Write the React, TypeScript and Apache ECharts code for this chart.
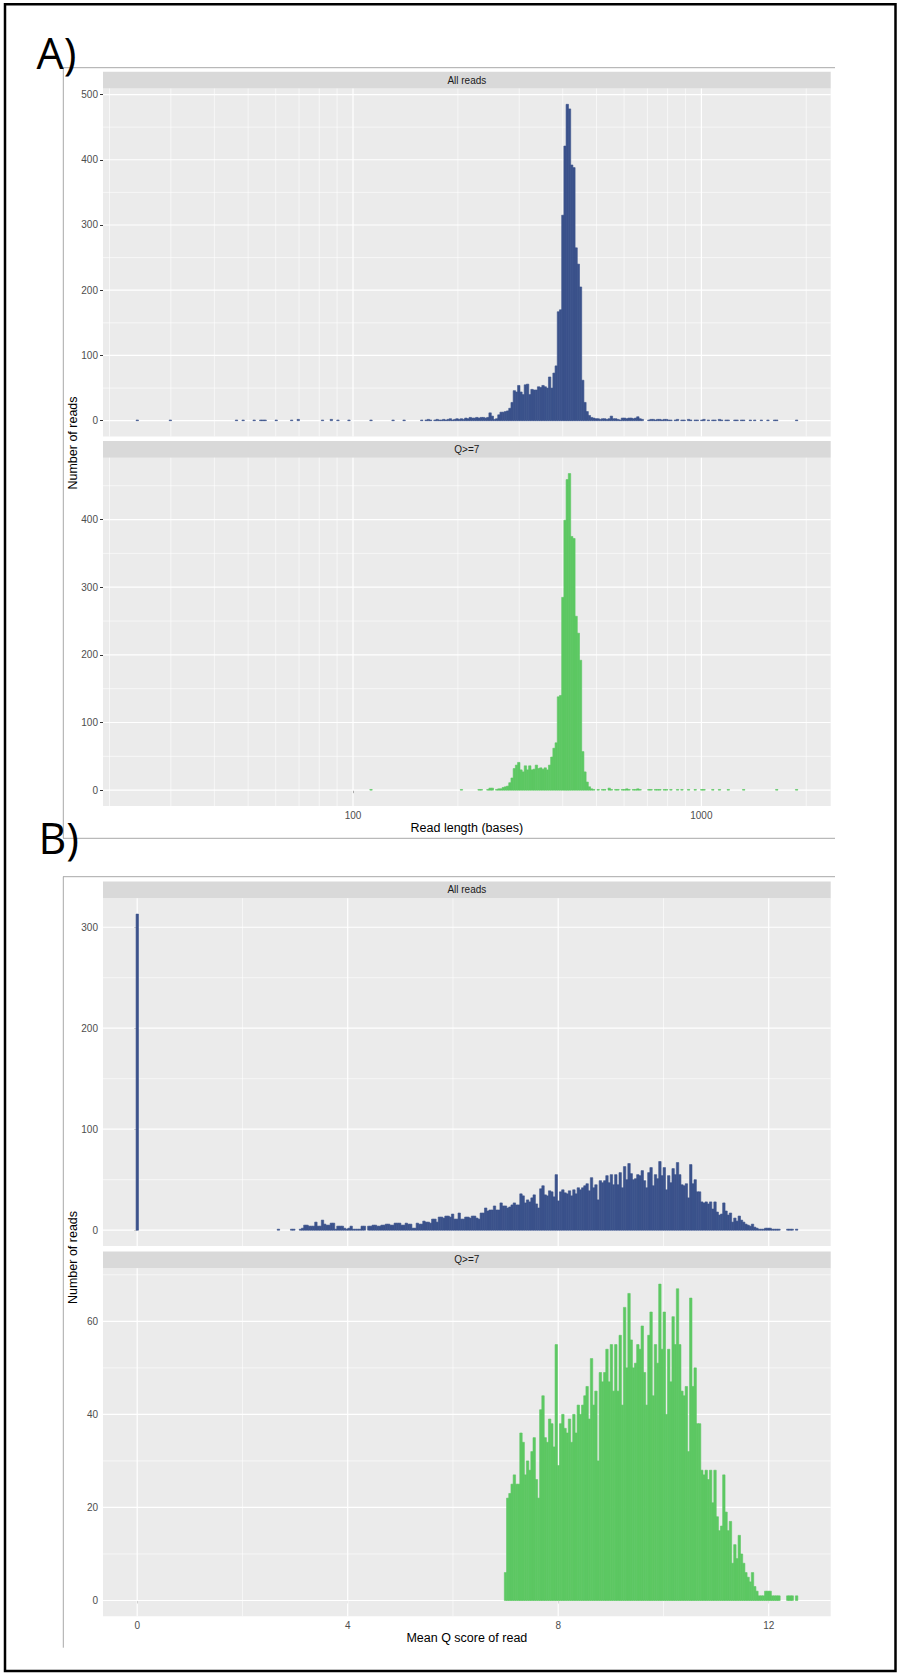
import React, { useEffect, useRef } from "react";
import * as echarts from "echarts";

// ---------------- DATA ----------------
// Read length histograms: 300 bins, uniform in log10(read length)
const lengthBinStartLog10 = 1.3773;
const lengthBinWidthLog10 = 0.00633;

const allReadsLengthCounts = [
  1,0,0,0,0,0,0,0,0,0,0,0,0,0,0,1,0,0,0,0,
  0,0,0,0,0,0,0,0,0,0,0,0,0,0,0,0,0,0,0,0,
  0,0,0,0,0,1,0,0,1,0,0,0,0,1,0,0,1,1,1,0,
  0,0,0,1,0,0,0,0,0,0,1,0,0,2,0,0,0,0,0,0,
  0,0,0,0,1,0,0,0,2,0,0,1,0,0,0,0,1,0,0,0,
  0,0,0,0,0,0,1,0,0,0,0,0,0,0,0,0,1,0,0,0,
  0,1,0,0,0,0,0,0,0,1,0,1,2,1,0,1,2,1,1,2,
  1,2,3,1,2,3,2,3,2,4,3,5,4,4,5,4,5,5,4,5,
  12,7,2,3,9,13,13,14,15,19,28,46,44,54,44,40,55,56,40,48,
  47,47,52,51,54,52,50,67,50,73,84,167,170,315,421,485,478,392,388,265,
  240,205,62,28,14,8,5,4,3,3,2,3,3,2,3,7,3,3,2,1,
  4,4,3,4,4,3,4,6,3,2,0,0,1,2,2,1,2,2,1,2,
  2,1,1,0,1,2,0,1,1,0,2,1,0,1,1,0,1,2,0,1,
  0,1,1,0,2,1,0,1,1,0,0,1,1,0,1,1,0,0,1,0,
  1,0,0,1,0,0,1,0,0,1,1,0,0,0,0,0,0,0,0,1,
];

const q7LengthCounts = [
  0,0,0,0,0,0,0,0,0,0,0,0,0,0,0,0,0,0,0,0,
  0,0,0,0,0,0,0,0,0,0,0,0,0,0,0,0,0,0,0,0,
  0,0,0,0,0,0,0,0,0,0,0,0,0,0,0,0,0,0,0,0,
  0,0,0,0,0,0,0,0,0,0,0,0,0,0,0,0,0,0,0,0,
  0,0,0,0,0,0,0,0,0,0,0,0,0,0,0,0,0,0,0,0,
  0,0,0,0,0,0,1,0,0,0,0,0,0,0,0,0,0,0,0,0,
  0,0,0,0,0,0,0,0,0,0,0,0,0,0,0,0,0,0,0,0,
  0,0,0,0,0,0,0,1,0,0,0,0,0,0,0,1,1,0,0,1,
  3,3,0,1,2,2,4,5,6,11,18,32,37,41,30,27,36,30,36,30,
  31,37,32,33,31,33,30,37,49,62,70,138,140,285,399,459,468,375,372,257,
  232,192,57,27,12,5,2,1,0,1,0,1,1,0,3,1,0,1,1,0,
  1,1,2,1,0,1,1,2,1,0,0,0,1,1,0,1,1,1,0,1,
  1,0,1,0,0,1,0,1,0,0,1,0,0,1,0,0,1,1,0,0,
  0,1,0,0,1,0,0,0,1,0,0,0,0,0,0,1,0,0,0,0,
  0,0,0,0,0,0,0,0,0,0,1,0,0,0,0,0,0,0,0,1,
];

// Mean Q score histograms: 300 bins centred on k * qBinWidth
const qBinWidth = 0.0419;

const allReadsQCounts = [
  313,0,0,0,0,0,0,0,0,0,0,0,0,0,0,0,0,0,0,0,
  0,0,0,0,0,0,0,0,0,0,0,0,0,0,0,0,0,0,0,0,
  0,0,0,0,0,0,0,0,0,0,0,0,0,0,0,0,0,0,0,0,
  0,0,0,0,1,0,0,0,0,0,1,1,0,0,1,2,5,5,4,4,
  4,8,4,4,10,6,5,5,7,7,1,4,4,4,2,1,2,4,1,1,
  1,1,4,4,0,4,4,5,5,4,4,5,5,6,6,5,5,7,7,7,
  5,5,7,6,6,2,2,7,6,6,9,8,8,7,11,11,8,13,13,12,
  14,14,13,16,11,11,17,11,11,13,13,12,14,14,12,11,17,17,22,19,
  20,20,24,20,20,27,24,24,22,23,25,27,25,25,36,34,27,30,28,32,
  35,26,22,41,44,35,34,39,38,33,55,29,38,40,37,36,39,34,40,36,
  42,40,42,44,46,39,52,42,45,30,49,47,49,54,47,55,45,55,45,57,
  42,63,50,66,56,50,51,55,54,59,49,42,57,62,44,55,51,68,54,62,
  40,54,47,61,55,67,55,45,44,46,32,65,46,50,38,38,28,27,28,26,
  28,21,28,18,15,16,27,19,15,17,8,12,9,14,10,8,6,5,4,6,
  3,2,1,1,1,2,2,2,1,1,1,1,0,0,0,1,1,1,0,1,
];

const q7QCounts = [
  0,0,0,0,0,0,0,0,0,0,0,0,0,0,0,0,0,0,0,0,
  0,0,0,0,0,0,0,0,0,0,0,0,0,0,0,0,0,0,0,0,
  0,0,0,0,0,0,0,0,0,0,0,0,0,0,0,0,0,0,0,0,
  0,0,0,0,0,0,0,0,0,0,0,0,0,0,0,0,0,0,0,0,
  0,0,0,0,0,0,0,0,0,0,0,0,0,0,0,0,0,0,0,0,
  0,0,0,0,0,0,0,0,0,0,0,0,0,0,0,0,0,0,0,0,
  0,0,0,0,0,0,0,0,0,0,0,0,0,0,0,0,0,0,0,0,
  0,0,0,0,0,0,0,0,0,0,0,0,0,0,0,0,0,0,0,0,
  0,0,0,0,0,0,0,6,22,23,25,27,25,25,36,34,27,30,28,32,
  35,26,22,41,44,35,34,39,38,33,55,29,38,40,37,36,39,34,40,36,
  42,40,42,44,46,39,52,42,45,30,49,47,49,54,47,55,45,55,45,57,
  42,63,50,66,56,50,51,55,54,59,49,42,57,62,44,55,51,68,54,62,
  40,54,47,61,55,67,55,45,44,46,32,65,46,50,38,38,28,27,28,26,
  28,21,28,18,15,16,27,19,15,17,8,12,9,14,10,8,6,5,4,6,
  3,2,1,1,1,2,2,2,1,1,1,1,0,0,0,1,1,1,0,1,
];

// Tick labels and grid breaks
const lengthTickLabels = [100, 1000];
const lengthMinorBreaks = [20, 30, 40, 50, 60, 70, 80, 90, 200, 300, 400, 500, 600, 700, 800, 900, 2000];
const qTickLabels = [0, 4, 8, 12];
const qMinorBreaks = [2, 6, 10];
const allReadsLengthYTicks = [0, 100, 200, 300, 400, 500];
const allReadsLengthYMinor = [50, 150, 250, 350, 450];
const q7LengthYTicks = [0, 100, 200, 300, 400];
const q7LengthYMinor = [50, 150, 250, 350, 450];
const allReadsQYTicks = [0, 100, 200, 300];
const allReadsQYMinor = [50, 150, 250];
const q7QYTicks = [0, 20, 40, 60];
const q7QYMinor = [10, 30, 50, 70];
const facetLabels = ["All reads", "Q>=7"];
const panelLetters = ["A)", "B)"];
const xTitles = ["Read length (bases)", "Mean Q score of read"];
const yTitle = "Number of reads";

// ---------------- STYLE / LAYOUT ----------------
const BLUE = "#3B528B";
const GREEN = "#5DC863";
const PANEL_BG = "#EBEBEB";
const STRIP_BG = "#D9D9D9";
const FONT = '"Liberation Sans", Arial, Helvetica, sans-serif';
const PLOT_LEFT = 103;
const PLOT_WIDTH = 727.7;
const STRIP_H = 16.8;
const FRAME = "#A8A8A8";

export default function App() {
  const ref = useRef<HTMLDivElement>(null);

  useEffect(() => {
    if (!ref.current) return;
    const chart = echarts.init(ref.current, null, { renderer: "svg" });

    const nLen = allReadsLengthCounts.length;
    const lenLo = lengthBinStartLog10;
    const lenHi = lengthBinStartLog10 + nLen * lengthBinWidthLog10;
    const lenRange = [lenLo - 0.05 * (lenHi - lenLo), lenHi + 0.05 * (lenHi - lenLo)];
    const nQ = allReadsQCounts.length;
    const qLo = -0.5 * qBinWidth;
    const qHi = (nQ - 0.5) * qBinWidth;
    const qRange = [qLo - 0.05 * (qHi - qLo), qHi + 0.05 * (qHi - qLo)];

    const lengthBins = (counts: number[]) =>
      counts
        .map((c, i) => [lenLo + i * lengthBinWidthLog10, lenLo + (i + 1) * lengthBinWidthLog10, c])
        .filter((d) => d[2] > 0);
    const qBins = (counts: number[]) =>
      counts
        .map((c, k) => [(k - 0.5) * qBinWidth, (k + 0.5) * qBinWidth, c])
        .filter((d) => d[2] > 0);

    const lenFmt = (v: number) => String(Math.round(Math.pow(10, v)));
    const qFmt = (v: number) => String(Math.round(v));

    const panels = [
      {
        top: 88.5, height: 348, strip: facetLabels[0], counts: allReadsLengthCounts,
        bins: lengthBins(allReadsLengthCounts), color: BLUE, xRange: lenRange,
        xMajor: lengthTickLabels.map((v) => Math.log10(v)), xMinor: lengthMinorBreaks.map((v) => Math.log10(v)),
        yTicks: allReadsLengthYTicks, yMinor: allReadsLengthYMinor, showX: false, fmt: lenFmt,
      },
      {
        top: 457.7, height: 348.3, strip: facetLabels[1], counts: q7LengthCounts,
        bins: lengthBins(q7LengthCounts), color: GREEN, xRange: lenRange,
        xMajor: lengthTickLabels.map((v) => Math.log10(v)), xMinor: lengthMinorBreaks.map((v) => Math.log10(v)),
        yTicks: q7LengthYTicks, yMinor: q7LengthYMinor, showX: true, fmt: lenFmt,
      },
      {
        top: 898.3, height: 347.7, strip: facetLabels[0], counts: allReadsQCounts,
        bins: qBins(allReadsQCounts), color: BLUE, xRange: qRange,
        xMajor: qTickLabels, xMinor: qMinorBreaks,
        yTicks: allReadsQYTicks, yMinor: allReadsQYMinor, showX: false, fmt: qFmt,
      },
      {
        top: 1268.3, height: 348, strip: facetLabels[1], counts: q7QCounts,
        bins: qBins(q7QCounts), color: GREEN, xRange: qRange,
        xMajor: qTickLabels, xMinor: qMinorBreaks,
        yTicks: q7QYTicks, yMinor: q7QYMinor, showX: true, fmt: qFmt,
      },
    ];

    const grids: any[] = [];
    const xAxes: any[] = [];
    const yAxes: any[] = [];
    const series: any[] = [];
    const graphics: any[] = [];

    panels.forEach((p, gi) => {
      const maxC = Math.max(...p.counts);
      const yMin = -0.05 * maxC;
      const yMax = 1.05 * maxC;
      grids.push({
        left: PLOT_LEFT, top: p.top, width: PLOT_WIDTH, height: p.height,
        show: true, backgroundColor: PANEL_BG, borderWidth: 0,
      });
      xAxes.push({
        gridIndex: gi, type: "value", min: p.xRange[0], max: p.xRange[1],
        axisLine: { show: false }, splitLine: { show: false }, minorSplitLine: { show: false },
        axisTick: { show: p.showX, customValues: p.xMajor, length: 3, lineStyle: { color: "#333333", width: 1 } },
        axisLabel: {
          show: p.showX, customValues: p.xMajor, margin: 4, color: "#4D4D4D",
          fontSize: 10, fontFamily: FONT, formatter: p.fmt,
        },
      });
      yAxes.push({
        gridIndex: gi, type: "value", min: yMin, max: yMax,
        axisLine: { show: false }, splitLine: { show: false },
        axisTick: { show: true, customValues: p.yTicks, length: 3, lineStyle: { color: "#333333", width: 1 } },
        axisLabel: { customValues: p.yTicks, margin: 5, color: "#4D4D4D", fontSize: 10, fontFamily: FONT },
      });

      const gridItems: number[][] = [];
      p.xMajor.forEach((v) => gridItems.push([0, v]));
      p.xMinor.forEach((v) => gridItems.push([1, v]));
      p.yTicks.forEach((v) => gridItems.push([2, v]));
      p.yMinor.forEach((v) => gridItems.push([3, v]));
      const xr = p.xRange;

      series.push({
        type: "custom", xAxisIndex: gi, yAxisIndex: gi, z: 1, silent: true,
        data: gridItems,
        renderItem: (params: any, api: any) => {
          const kind = api.value(0);
          const v = api.value(1);
          const cs = params.coordSys;
          const lw = kind === 0 || kind === 2 ? 1.2 : 0.6;
          if (kind < 2) {
            const x = api.coord([v, 0])[0];
            return {
              type: "line",
              shape: { x1: x, y1: cs.y, x2: x, y2: cs.y + cs.height },
              style: { stroke: "#FFFFFF", lineWidth: lw },
            };
          }
          const y = api.coord([xr[0], v])[1];
          return {
            type: "line",
            shape: { x1: cs.x, y1: y, x2: cs.x + cs.width, y2: y },
            style: { stroke: "#FFFFFF", lineWidth: lw },
          };
        },
      });

      series.push({
        type: "custom", xAxisIndex: gi, yAxisIndex: gi, z: 3, silent: true,
        data: p.bins,
        encode: { x: [0, 1], y: 2 },
        renderItem: (params: any, api: any) => {
          const p0 = api.coord([api.value(0), 0]);
          const p1 = api.coord([api.value(1), api.value(2)]);
          return {
            type: "rect",
            shape: { x: p0[0], y: p1[1], width: p1[0] - p0[0] + 0.2, height: p0[1] - p1[1] },
            style: { fill: p.color, stroke: p.color, lineWidth: 0.6 },
          };
        },
      });

      // strip
      graphics.push({
        type: "rect", silent: true,
        shape: { x: PLOT_LEFT, y: p.top - STRIP_H, width: PLOT_WIDTH, height: STRIP_H },
        style: { fill: STRIP_BG },
      });
      graphics.push({
        type: "text", silent: true,
        x: PLOT_LEFT + PLOT_WIDTH / 2, y: p.top - STRIP_H / 2,
        style: {
          text: p.strip, fill: "#1A1A1A", font: `10px ${FONT}`,
          textAlign: "center", textVerticalAlign: "middle", align: "center", verticalAlign: "middle",
        },
      });
    });

    const line = (x1: number, y1: number, x2: number, y2: number, stroke: string, w: number) => ({
      type: "line", silent: true,
      shape: { x1, y1, x2, y2 },
      style: { stroke, lineWidth: w },
    });
    const text = (t: string, x: number, y: number, size: number, family: string, color: string, align = "center", rot = 0) => ({
      type: "text", silent: true, x, y, rotation: rot,
      style: {
        text: t, fill: color, font: `${size}px ${family}`,
        textAlign: align, textVerticalAlign: "middle", align, verticalAlign: "middle",
      },
    });

    // image frames
    graphics.push(line(63, 67.7, 835, 67.7, FRAME, 1));
    graphics.push(line(63.3, 67.7, 63.3, 838.3, FRAME, 1));
    graphics.push(line(63, 838.3, 835, 838.3, FRAME, 1));
    graphics.push(line(63, 876.7, 835, 876.7, FRAME, 1));
    graphics.push(line(63.3, 876.7, 63.3, 1647.7, FRAME, 1));

    // outer black border
    graphics.push({
      type: "rect", silent: true,
      shape: { x: 5, y: 4.2, width: 890.5, height: 1666.8 },
      style: { fill: "none", stroke: "#000000", lineWidth: 2.5 },
    });

    // panel letters
    graphics.push(text(panelLetters[0], 36.5, 52.5, 43, '"Open Sans", sans-serif', "#000000", "left"));
    graphics.push(text(panelLetters[1], 38.5, 837.5, 43, '"Open Sans", sans-serif', "#000000", "left"));

    // axis titles
    const cx = PLOT_LEFT + PLOT_WIDTH / 2;
    graphics.push(text(xTitles[0], cx, 827.7, 12.5, FONT, "#000000"));
    graphics.push(text(xTitles[1], cx, 1637.7, 12.5, FONT, "#000000"));
    graphics.push(text(yTitle, 73, 443, 12.5, FONT, "#000000", "center", Math.PI / 2));
    graphics.push(text(yTitle, 73, 1257.5, 12.5, FONT, "#000000", "center", Math.PI / 2));

    chart.setOption({
      animation: false,
      backgroundColor: "#FFFFFF",
      grid: grids,
      xAxis: xAxes,
      yAxis: yAxes,
      series,
      graphic: { elements: graphics },
    });

    return () => chart.dispose();
  }, []);

  return (
    <div
      ref={ref}
      style={{ position: "absolute", left: 0, top: 0, width: 898, height: 1674, background: "#FFFFFF" }}
    />
  );
}
